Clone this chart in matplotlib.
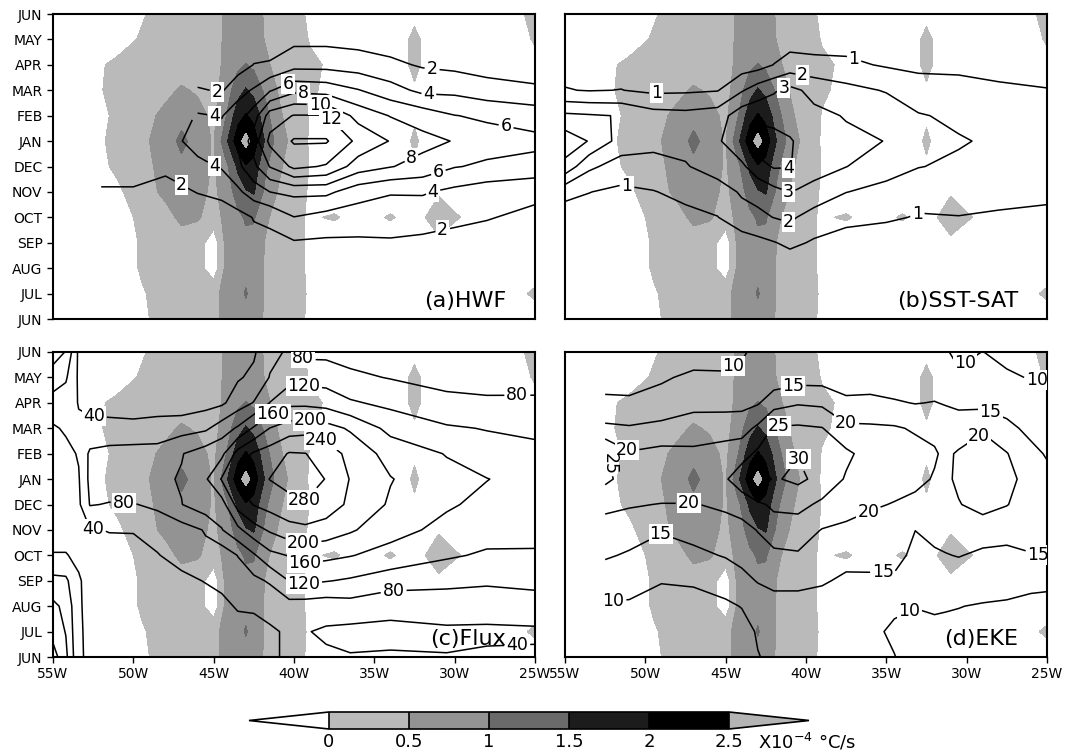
import numpy as np
import matplotlib
matplotlib.use("Agg")
import matplotlib.pyplot as plt
from matplotlib.colors import ListedColormap, BoundaryNorm

nan = np.nan

# Time axis: JUN (bottom) ... JAN ... JUN (top)
months = np.arange(13)
month_labels = ["JUN", "JUL", "AUG", "SEP", "OCT", "NOV", "DEC",
                "JAN", "FEB", "MAR", "APR", "MAY", "JUN"]
lon_ticks = [-55, -50, -45, -40, -35, -30, -25]
lon_labels = ["55W", "50W", "45W", "40W", "35W", "30W", "25W"]

# Shaded field (x10^-4 degC/s), one row per month JUN..JUN
shade_levels = [0, 0.5, 1, 1.5, 2, 2.5]
shade_lon = [-55, -52.5, -51, -49.5, -48, -47, -46, -45, -44.3, -43.5, -43, -42.5,
             -41.8, -41, -40, -39, -37.5, -35.8, -34, -32.5, -31, -28, -26, -25]
shade_rows = [
    [-0.3, -0.3, -0.3, -0.1, 0.2, 0.3, 0.35, 0.4, 0.6, 0.75, 0.8, 0.7, 0.45, 0.3, 0.1, -0.05, -0.3, -0.3, -0.3, -0.3, -0.3, -0.3, -0.3, -0.3],
    [-0.3, -0.3, -0.3, -0.05, 0.2, 0.3, 0.35, 0.4, 0.6, 0.8, 1.05, 0.8, 0.45, 0.3, 0.15, -0.05, -0.3, -0.3, -0.3, -0.3, -0.3, -0.3, -0.1, 0.1],
    [-0.3, -0.3, -0.3, 0.05, 0.25, 0.3, 0.2, -0.3, 0.55, 0.8, 0.85, 0.8, 0.45, 0.3, 0.1, -0.05, -0.3, -0.3, -0.3, -0.3, -0.3, -0.3, -0.3, -0.3],
    [-0.3, -0.3, -0.3, 0.05, 0.25, 0.3, 0.25, -0.3, 0.55, 0.85, 0.9, 0.85, 0.48, 0.3, 0.1, -0.05, -0.3, -0.3, -0.3, -0.3, -0.1, -0.3, -0.3, -0.3],
    [-0.3, -0.3, -0.2, 0.1, 0.35, 0.6, 0.55, 0.3, 0.6, 0.9, 1.05, 1.05, 0.6, 0.3, 0.1, -0.05, 0.05, -0.2, 0.05, -0.2, 0.25, -0.3, -0.1, -0.3],
    [-0.3, -0.3, -0.1, 0.3, 0.6, 0.75, 0.65, 0.4, 0.7, 1.2, 1.45, 1.55, 0.9, 0.48, 0.2, -0.05, -0.3, -0.3, -0.3, -0.3, -0.05, -0.3, -0.3, -0.3],
    [-0.3, -0.2, 0.1, 0.35, 0.65, 0.85, 0.7, 0.45, 0.8, 1.6, 1.95, 1.8, 1.1, 0.6, 0.25, -0.02, -0.3, -0.3, -0.3, -0.05, -0.3, -0.3, -0.3, -0.3],
    [-0.3, -0.15, 0.15, 0.4, 0.7, 1.15, 0.75, 0.45, 1.3, 2.3, 2.7, 2.3, 1.45, 0.8, 0.3, -0.05, -0.3, -0.3, -0.3, 0.06, -0.3, -0.3, -0.3, -0.3],
    [-0.3, -0.2, 0.1, 0.35, 0.6, 0.8, 0.65, 0.4, 0.9, 1.8, 2.05, 1.85, 1.2, 0.6, 0.25, -0.02, -0.3, -0.3, -0.3, -0.05, -0.3, -0.3, -0.3, -0.3],
    [-0.3, -0.1, 0.15, 0.3, 0.4, 0.55, 0.45, 0.35, 0.7, 1.3, 1.55, 1.35, 0.9, 0.48, 0.2, 0.05, -0.1, -0.3, -0.3, -0.05, -0.3, -0.3, -0.3, -0.3],
    [-0.3, -0.1, 0.1, 0.2, 0.25, 0.3, 0.3, 0.3, 0.6, 0.9, 1.02, 0.9, 0.6, 0.35, 0.2, 0.05, -0.05, -0.3, -0.3, 0.1, -0.3, -0.3, -0.3, -0.3],
    [-0.3, -0.3, -0.2, 0.05, 0.2, 0.25, 0.3, 0.35, 0.55, 0.7, 0.75, 0.7, 0.48, 0.3, 0.15, -0.02, -0.2, -0.3, -0.3, 0.1, -0.3, -0.3, -0.3, 0.1],
    [-0.3, -0.3, -0.3, -0.05, 0.2, 0.25, 0.3, 0.35, 0.55, 0.7, 0.75, 0.7, 0.45, 0.3, 0.1, -0.05, -0.3, -0.3, -0.3, -0.1, -0.3, -0.3, -0.1, 0.2],
]

# Contoured fields, one list per longitude (months JUN..JUN)
hwf_levels = [2, 4, 6, 8, 10, 12, 14]
hwf_lon = [-55, -52, -50, -48, -46, -44.5, -43.5, -42.5, -41.5, -40, -38, -36, -34, -32, -30, -28, -25]
hwf_cols = [
    [nan] * 13,
    [0.2, 0.3, 0.5, 0.8, 1.3, 1.95, 2.2, 2.05, nan, nan, nan, nan, nan],
    [0.2, 0.3, 0.5, 0.8, 1.3, 1.9, 2.4, 2.3, nan, nan, nan, nan, nan],
    [0.3, 0.4, 0.6, 0.9, 1.4, 1.5, 2.3, 3.0, nan, nan, nan, nan, nan],
    [0.3, 0.5, 0.7, 0.9, 1.2, 2.05, 3.4, 4.9, 4.2, 2.2, 0.5, 0.3, 0.2],
    [0.3, 0.5, 0.7, 0.8, 1.2, 2.4, 4.2, 4.8, 3.9, 1.8, 1.0, 0.6, 0.3],
    [0.4, 0.6, 0.8, 0.9, 1.3, 3.6, 5.5, 6.2, 5.0, 3.3, 1.1, 0.7, 0.4],
    [0.5, 0.8, 1.2, 1.5, 2.1, 5.0, 7.5, 9.0, 7.0, 4.2, 2.05, 1.0, 0.6],
    [0.5, 0.8, 1.2, 1.5, 2.4, 6.0, 10.1, 12.5, 11.0, 5.8, 2.2, 1.0, 0.6],
    [0.5, 0.8, 1.2, 1.8, 3.95, 6.5, 12.5, 14.2, 12.1, 7.5, 3.3, 1.5, 0.8],
    [0.4, 0.7, 1.1, 1.7, 3.2, 6.5, 11.8, 14.2, 12.1, 7.2, 3.3, 1.5, 0.8],
    [0.3, 0.6, 1.0, 1.7, 3.0, 4.8, 9.0, 11.5, 9.3, 6.1, 3.0, 1.3, 0.7],
    [0.3, 0.6, 1.0, 1.7, 3.3, 4.1, 8.1, 9.9, 7.9, 4.8, 2.4, 1.1, 0.6],
    [0.3, 0.6, 1.0, 1.6, 2.8, 4.2, 7.3, 8.6, 7.1, 3.5, 1.8, 0.9, 0.5],
    [0.3, 0.5, 0.9, 1.4, 2.4, 3.5, 6.1, 7.9, 6.05, 3.5, 1.5, 0.8, 0.5],
    [0.3, 0.5, 0.8, 1.3, 2.1, 2.9, 5.7, 6.8, 5.7, 2.85, 1.15, 0.7, 0.4],
    [0.2, 0.4, 0.7, 1.1, 1.6, 2.4, 5.3, 6.5, 5.1, 2.4, 0.8, 0.5, 0.3],
]

sst_levels = [1, 2, 3, 4]
sst_lon = [-55, -53.5, -51.5, -49.5, -47.5, -45.5, -44, -43, -42, -41, -39.5, -37.5, -35, -33, -30.5, -28, -25]
sst_cols = [
    [0.2, 0.25, 0.3, 0.4, 0.5, 1.3, 3.7, 4.6, 3.2, 1.05, 0.65, 0.5, 0.4],
    [0.2, 0.25, 0.3, 0.4, 0.6, 1.02, 2.2, 3.95, 3.1, 0.95, 0.6, 0.5, 0.4],
    [0.2, 0.25, 0.3, 0.4, 0.55, 0.8, 1.55, 2.6, 2.95, 1.02, 0.6, 0.5, 0.4],
    [0.2, 0.25, 0.3, 0.4, 0.55, 0.95, 1.75, 2.2, 2.4, 0.8, 0.55, 0.45, 0.35],
    [0.2, 0.25, 0.3, 0.45, 0.7, 1.3, 1.9, 2.4, 2.3, 0.85, 0.55, 0.45, 0.35],
    [0.2, 0.25, 0.3, 0.5, 0.98, 1.4, 2.6, 2.85, 2.5, 0.95, 0.55, 0.45, 0.35],
    [0.25, 0.3, 0.35, 0.6, 1.5, 2.15, 2.8, 3.8, 3.6, 1.9, 0.5, 0.45, 0.35],
    [0.3, 0.35, 0.4, 0.73, 1.8, 2.3, 3.6, 4.6, 3.7, 2.5, 0.6, 0.45, 0.35],
    [0.25, 0.3, 0.4, 0.95, 2.02, 2.7, 4.1, 4.4, 3.6, 2.9, 1.02, 0.5, 0.4],
    [0.2, 0.3, 0.4, 1.2, 2.2, 3.02, 4.05, 4.1, 3.5, 3.28, 1.4, 0.6, 0.4],
    [0.2, 0.3, 0.45, 0.9, 1.5, 2.8, 3.25, 3.4, 3.25, 2.7, 1.3, 0.55, 0.4],
    [0.2, 0.3, 0.4, 0.7, 1.2, 2.02, 3.02, 3.2, 2.94, 2.3, 1.2, 0.6, 0.4],
    [0.2, 0.3, 0.4, 0.6, 1.1, 1.7, 2.4, 2.98, 2.6, 1.93, 0.9, 0.55, 0.4],
    [0.2, 0.3, 0.4, 0.6, 0.95, 1.25, 2.04, 2.6, 2.1, 1.2, 0.9, 0.55, 0.4],
    [0.2, 0.3, 0.4, 0.6, 0.98, 1.3, 1.8, 2.1, 1.75, 1.3, 0.8, 0.5, 0.35],
    [0.2, 0.3, 0.4, 0.6, 0.9, 1.25, 1.6, 1.8, 1.6, 1.15, 0.7, 0.5, 0.35],
    [0.2, 0.3, 0.4, 0.6, 0.8, 1.2, 1.5, 1.6, 1.5, 1.04, 0.6, 0.45, 0.35],
]

flux_levels = [40, 80, 120, 160, 200, 240, 280]
flux_lon = [-55, -54.2, -53.4, -52.7, -51.5, -50, -48.5, -47, -45.5, -44.5, -43.5,
            -42.5, -41.5, -40.3, -39.3, -38, -36.5, -34, -30.5, -28, -25]
flux_cols = [
    [178, 145, 129, 91, 42, 25, 22, 22, 25, 35, 65, 100, 140],
    [130, 118, 110, 88, 42, 25, 22, 22, 30, 45, 60, 85, 118],
    [46, 46, 45, 44, 32, 30, 33, 37, 43, 46, 38, 34, 32],
    [32, 30, 28, 27, 30, 38, 82, 90, 88, 45, 35, 30, 28],
    [30, 28, 27, 28, 32, 41, 78, 100, 96, 46, 32, 30, 28],
    [30, 28, 27, 28, 34, 41, 78, 108, 100, 44, 33, 30, 28],
    [30, 28, 28, 30, 38, 55, 88, 112, 102, 46, 33, 30, 28],
    [22, 22, 25, 30, 55, 63, 119, 123, 118, 64, 16, 18, 20],
    [22, 22, 22, 42, 70, 83, 145, 155, 140, 73, 26, 20, 22],
    [25, 28, 35, 45, 55, 118, 143, 203, 150, 100, 33, 25, 22],
    [28, 32, 42, 62, 81, 150, 215, 248, 215, 125, 60, 36, 32],
    [28, 30, 44, 70, 115, 185, 242, 262, 245, 165, 82, 48, 35],
    [38, 36, 50, 85, 150, 205, 255, 281, 258, 201, 121, 82, 70],
    [42, 44, 65, 121, 162, 225, 270, 292, 283, 220, 150, 105, 85],
    [45, 42, 62, 128, 175, 230, 278, 292, 281, 225, 150, 105, 70],
    [45, 35, 58, 122, 170, 222, 262, 279, 262, 215, 145, 102, 70],
    [42, 30, 64, 115, 162, 205, 232, 238, 228, 195, 125, 88, 65],
    [43, 32, 50, 100, 145, 175, 195, 202, 185, 148, 110, 78, 60],
    [41, 35, 55, 92, 125, 148, 165, 172, 158, 125, 88, 70, 58],
    [43, 36, 50, 88, 115, 135, 150, 161, 138, 118, 85, 68, 56],
    [44, 36, 55, 95, 117, 128, 138, 145, 130, 112, 86, 66, 55],
]

eke_levels = [10, 15, 20, 25, 30]
eke_lon = [-55, -52.5, -51, -49, -47, -45, -44, -43, -42, -40.5, -39, -37.5, -36, -34.5,
           -33.2, -32, -31.3, -30.5, -29, -27.5, -26, -25]
eke_cols = [
    [nan] * 13,
    [7, 8.5, 9.5, 12.5, 15.5, 17.5, 21.5, 26, 25.5, 16, 11, 8, 7],
    [6.5, 8, 9.3, 12, 14.5, 17, 20.5, 23, 20.5, 15.5, 10.8, 8, 7],
    [6, 7.5, 8.5, 10.2, 13.3, 15.3, 19.8, 24, 21.5, 16.5, 11.5, 9.5, 8],
    [6, 7.5, 8.5, 10.5, 14, 16.5, 19.8, 24, 21, 17.5, 13.5, 10.8, 8],
    [6.5, 8, 9.1, 12.3, 15.3, 18.2, 20.8, 24.5, 21.5, 18.5, 13, 10.5, 8.5],
    [6.5, 8, 10.2, 13.5, 16.5, 18.5, 22, 28, 23, 18, 13.5, 11, 9.5],
    [9.8, 10.5, 12, 15.3, 18, 20.2, 24, 33, 26, 21, 14.5, 12.5, 11],
    [11, 12, 13.5, 16, 19, 22.5, 26, 29.5, 27.5, 25.5, 18, 12, 11],
    [11, 12.5, 13.5, 16, 19.5, 22.5, 26.5, 31, 29.8, 25.8, 19.5, 13, 11],
    [10.5, 11.5, 13, 15.5, 17.5, 19.8, 24, 28.5, 27, 25.2, 19, 13, 11],
    [11, 11.5, 12.5, 14.2, 16.5, 19, 22, 24.5, 26, 21, 16, 12.5, 11],
    [10.3, 10.8, 12.5, 14, 17, 18.5, 20.5, 22.5, 23, 20.8, 16, 13, 11],
    [10.1, 9.4, 10.6, 14, 17, 18, 19.8, 21.5, 21.5, 20.5, 15.5, 12, 10.8],
    [8.5, 9.0, 10.1, 12, 13.5, 15.05, 19, 21, 21.5, 19.5, 14.8, 11.5, 10.5],
    [8.5, 9.0, 10.5, 12.5, 14.3, 16.5, 18, 19.7, 20.4, 19, 15.2, 12, 10.5],
    [8.2, 9.0, 10.3, 12.5, 14.8, 16.8, 18.8, 19.0, 19.2, 18.2, 14.6, 11.2, 10.3],
    [8, 9, 10.1, 12.5, 15.2, 17, 19.7, 21, 20.5, 17.5, 14, 10.5, 9.2],
    [7.5, 8.5, 9.7, 12, 14.2, 17, 22, 22.5, 22, 19.5, 13.5, 11, 10.05],
    [7.5, 8.5, 9.6, 11.2, 14, 16.5, 20.2, 21.5, 20.2, 16.5, 12.5, 10.5, 9],
    [7.5, 8.5, 9.5, 10.5, 14.8, 16.5, 17.5, 18, 16.5, 13.5, 12, 9.8, 9],
    [7.5, 8.5, 9.6, 10.3, 15.2, 16.5, 17, 16.5, 14.5, 13, 11, 9.8, 9],
]

# where the contour labels sit (lon, month)
hwf_lab = [(-44.8, 8.9), (-31.4, 9.87), (-45.0, 7.9), (-31.6, 8.95), (-40.4, 9.3),
           (-39.4, 8.95), (-38.4, 8.37), (-37.5, 7.97), (-26.8, 7.58), (-32.8, 6.47),
           (-31.1, 5.95), (-45.1, 5.88), (-31.4, 5.16), (-47.0, 5.3), (-30.8, 3.66)]
sst_lab = [(-49.3, 8.76), (-36.9, 10.45), (-40.2, 9.6), (-41.4, 9.1), (-41.1, 6.0),
           (-41.1, 4.97), (-41.1, 3.8), (-51.1, 5.39), (-33.1, 4.18)]
flux_lab = [(-52.5, 9.13), (-50.6, 6.1), (-52.5, 5.0), (-39.4, 11.8), (-39.4, 10.7),
            (-41.3, 9.55), (-39.0, 9.3), (-38.3, 8.5), (-39.4, 6.11), (-39.4, 4.54),
            (-39.4, 3.6), (-39.4, 2.88), (-33.8, 2.6), (-26.1, 10.37), (-26.1, 0.4)]
eke_lab = [(-44.1, 11.03), (-40.8, 10.7), (-41.7, 9.1), (-37.5, 9.2), (-39.9, 7.95),
           (-51.2, 8.08), (-47.3, 6.18), (-36.3, 5.98), (-49.1, 4.89), (-35.2, 3.2),
           (-52.0, 2.31), (-33.7, 1.98), (-29.7, 11.2), (-25.6, 11.1), (-28.6, 9.5),
           (-29.4, 8.85), (-25.6, 3.95), (-52.3, 7.6)]

panels = [
    ("(a)HWF", hwf_lon, hwf_cols, hwf_levels, hwf_lab),
    ("(b)SST-SAT", sst_lon, sst_cols, sst_levels, sst_lab),
    ("(c)Flux", flux_lon, flux_cols, flux_levels, flux_lab),
    ("(d)EKE", eke_lon, eke_cols, eke_levels, eke_lab),
]

fig = plt.figure(figsize=(10.65, 7.56), dpi=100)
W, H = 1065.0, 756.0
boxes = [(53, 14), (565, 14), (53, 352), (565, 352)]
pw, ph = 482, 305

cmap = ListedColormap(["#bababa", "#939393", "#6a6a6a", "#1c1c1c", "#000000"])
cmap.set_under("white")
cmap.set_over("#b4b4b4")
norm = BoundaryNorm(shade_levels, cmap.N)
shade = np.array(shade_rows)

cf = None
for k, (title, lon, cols, levels, lab_pos) in enumerate(panels):
    x0, y0 = boxes[k]
    ax = fig.add_axes([x0 / W, 1 - (y0 + ph) / H, pw / W, ph / H])
    cf = ax.contourf(shade_lon, months, shade, levels=shade_levels,
                     cmap=cmap, norm=norm, extend="both")
    z = np.ma.masked_invalid(np.array(cols, dtype=float).T)
    cs = ax.contour(lon, months, z, levels=levels, colors="black", linewidths=1.1)
    texts = ax.clabel(cs, fmt="%d", fontsize=12.5, inline=True, inline_spacing=2,
                      manual=lab_pos)
    for t in texts:
        t.set_rotation(0)
        t.set_bbox(dict(boxstyle="square,pad=0.06", fc="white", ec="none"))
    if title == "(d)EKE":
        # the small 25 at the western edge is written sideways
        texts[-1].set_rotation(270)
        texts[-1].set_bbox(None)

    ax.set_xlim(-55, -25)
    ax.set_ylim(0, 12)
    ax.set_xticks(lon_ticks)
    ax.set_yticks(months)
    for sp in ax.spines.values():
        sp.set_linewidth(1.5)
    ax.tick_params(direction="out", length=4, width=1, labelsize=10)
    if k in (0, 2):
        ax.set_yticklabels(month_labels)
    else:
        ax.tick_params(left=False, labelleft=False)
    if k in (2, 3):
        ax.set_xticklabels(lon_labels)
    else:
        ax.tick_params(bottom=False, labelbottom=False)
    ax.text(0.94, 0.06, title, transform=ax.transAxes, ha="right", va="center",
            fontsize=16, zorder=10)

# colorbar
cax = fig.add_axes([249 / W, 1 - 729 / H, 560 / W, 17 / H])
cb = fig.colorbar(cf, cax=cax, orientation="horizontal", extendfrac=0.2,
                  drawedges=True, ticks=shade_levels)
cb.ax.set_xticklabels(["0", "0.5", "1", "1.5", "2", "2.5"])
cb.ax.tick_params(length=0, labelsize=13, pad=3)
cb.outline.set_linewidth(1.2)
cb.dividers.set_linewidth(1.2)
fig.text(758 / W, 1 - 742 / H, r"X10$^{-4}$ °C/s", fontsize=13, ha="left", va="center")

fig.savefig("out.png", dpi=100)
